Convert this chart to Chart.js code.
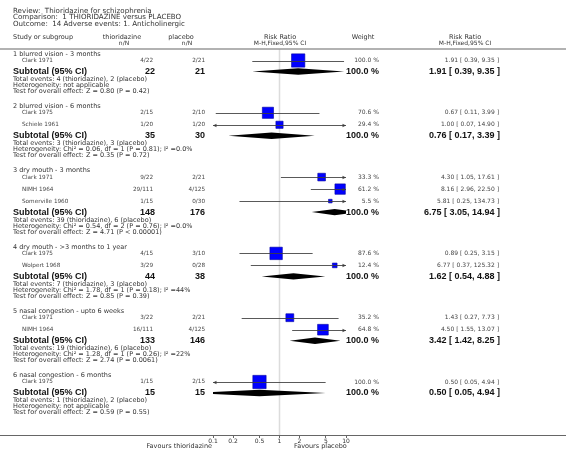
<!DOCTYPE html>
<html>
<head>
<meta charset="utf-8">
<script src="https://cdn.jsdelivr.net/npm/chart.js@4.4.0/dist/chart.umd.min.js"></script>
<style>
  html, body { margin: 0; padding: 0; background: #fff; }
  canvas { display: block; }
</style>
</head>
<body>
<canvas id="forest" width="566" height="465"></canvas>
<script>
// ---- data ----
const groups = [
    '1 blurred vision - 3 months',
    '2 blurred vision - 6 months',
    '3 dry mouth - 3 months',
    '4 dry mouth - >3 months to 1 year',
    '5 nasal congestion - upto 6 weeks',
    '6 nasal congestion - 6 months'
];
const studyGroup = [0, 1, 1, 2, 2, 2, 3, 3, 4, 4, 5];
const studies = ['Clark 1971', 'Clark 1975', 'Schiele 1961', 'Clark 1971', 'NIMH 1964', 'Somerville 1960',
    'Clark 1975', 'Wolpert 1968', 'Clark 1971', 'NIMH 1964', 'Clark 1975'];
const eventsT = [4, 2, 1, 9, 29, 1, 4, 3, 3, 16, 1];
const totalT = [22, 15, 20, 22, 111, 15, 15, 29, 22, 111, 15];
const eventsP = [2, 2, 1, 2, 4, 0, 3, 0, 2, 4, 2];
const totalP = [21, 10, 20, 21, 125, 30, 10, 28, 21, 125, 15];
const weights = [100.0, 70.6, 29.4, 33.3, 61.2, 5.5, 87.6, 12.4, 35.2, 64.8, 100.0];
const rr = [1.91, 0.67, 1.00, 4.30, 8.16, 5.81, 0.89, 6.77, 1.43, 4.50, 0.50];
const rrLow = [0.39, 0.11, 0.07, 1.05, 2.96, 0.25, 0.25, 0.37, 0.27, 1.55, 0.05];
const rrHigh = [9.35, 3.99, 14.90, 17.61, 22.50, 134.73, 3.15, 125.32, 7.73, 13.07, 4.94];

const subN_T = [22, 35, 148, 44, 133, 15];
const subN_P = [21, 30, 176, 38, 146, 15];
const subRR = [1.91, 0.76, 6.75, 1.62, 3.42, 0.50];
const subLow = [0.39, 0.17, 3.05, 0.54, 1.42, 0.05];
const subHigh = [9.35, 3.39, 14.94, 4.88, 8.25, 4.94];
const subEventsT = [4, 3, 39, 7, 19, 1];
const subEventsP = [2, 3, 6, 3, 6, 2];
const heterogeneity = [
    'not applicable',
    'Chi² = 0.06, df = 1 (P = 0.81); I² =0.0%',
    'Chi² = 0.54, df = 2 (P = 0.76); I² =0.0%',
    'Chi² = 1.78, df = 1 (P = 0.18); I² =44%',
    'Chi² = 1.28, df = 1 (P = 0.26); I² =22%',
    'not applicable'
];
const overallEffect = [
    'Z = 0.80 (P = 0.42)',
    'Z = 0.35 (P = 0.72)',
    'Z = 4.71 (P < 0.00001)',
    'Z = 0.85 (P = 0.39)',
    'Z = 2.74 (P = 0.0061)',
    'Z = 0.59 (P = 0.55)'
];
const tickValues = [0.1, 0.2, 0.5, 1, 2, 5, 10];

// ---- row layout (vertical units of the y scale) ----
const rowY = [], groupY = [], subY = [], infoY = [];
let cursor = 5;
groups.forEach(function (g, gi) {
    groupY.push(cursor);
    cursor += 6.5;
    let first = true;
    studyGroup.forEach(function (sg, i) {
        if (sg !== gi) return;
        if (!first) cursor += 12;
        rowY[i] = cursor;
        first = false;
    });
    cursor += 11;
    subY.push(cursor);
    cursor += 7.8;
    infoY.push(cursor);
    cursor += 12 + 15;
});

const fmtCI = (m, l, h) => m.toFixed(2) + ' [ ' + l.toFixed(2) + ', ' + h.toFixed(2) + ' ]';
const NORMAL = '"DejaVu Sans", Verdana, sans-serif';
const BOLD = 'bold 9px "Liberation Sans", Arial, sans-serif';

function text(ctx, str, x, y, font, color, align) {
    ctx.font = font;
    ctx.fillStyle = color;
    ctx.textAlign = align || 'left';
    ctx.textBaseline = 'middle';
    ctx.fillText(str, x, y);
}

const forestPlugin = {
    id: 'forest',
    beforeDatasetsDraw(chart) {
        const ctx = chart.ctx, area = chart.chartArea;
        const xs = chart.scales.x, ys = chart.scales.y;
        ctx.save();
        // line of no effect
        const x1 = xs.getPixelForValue(1);
        ctx.strokeStyle = '#dcdcdc';
        ctx.lineWidth = 1.5;
        ctx.beginPath();
        ctx.moveTo(x1, area.top);
        ctx.lineTo(x1, area.bottom);
        ctx.stroke();

        // subtotal diamonds
        ctx.beginPath();
        ctx.rect(area.left, area.top, area.right - area.left, area.bottom - area.top);
        ctx.clip();
        ctx.fillStyle = '#000';
        subRR.forEach(function (m, i) {
            const py = ys.getPixelForValue(subY[i]);
            const pl = xs.getPixelForValue(subLow[i]);
            const pm = xs.getPixelForValue(m);
            const ph = xs.getPixelForValue(subHigh[i]);
            ctx.beginPath();
            ctx.moveTo(pl, py);
            ctx.lineTo(pm, py - 3.2);
            ctx.lineTo(ph, py);
            ctx.lineTo(pm, py + 3.2);
            ctx.closePath();
            ctx.fill();
        });
        ctx.restore();
    },
    afterDatasetsDraw(chart) {
        const ctx = chart.ctx;
        const xs = chart.scales.x, ys = chart.scales.y;
        const lo = xs.getPixelForValue(tickValues[0]);
        const hi = xs.getPixelForValue(tickValues[tickValues.length - 1]);
        ctx.save();
        ctx.strokeStyle = 'rgba(60,60,60,0.85)';
        ctx.fillStyle = 'rgba(60,60,60,0.9)';
        ctx.lineWidth = 1;
        rr.forEach(function (m, i) {
            const py = Math.round(ys.getPixelForValue(rowY[i])) + 0.5;
            const pl = Math.max(lo, xs.getPixelForValue(rrLow[i]));
            const ph = Math.min(hi, xs.getPixelForValue(rrHigh[i]));
            ctx.beginPath();
            ctx.moveTo(pl, py);
            ctx.lineTo(ph, py);
            ctx.stroke();
            if (rrLow[i] < tickValues[0]) {
                ctx.beginPath();
                ctx.moveTo(lo, py);
                ctx.lineTo(lo + 3.5, py - 1.8);
                ctx.lineTo(lo + 3.5, py + 1.8);
                ctx.fill();
            }
            if (rrHigh[i] > tickValues[tickValues.length - 1]) {
                ctx.beginPath();
                ctx.moveTo(hi, py);
                ctx.lineTo(hi - 3.5, py - 1.8);
                ctx.lineTo(hi - 3.5, py + 1.8);
                ctx.fill();
            }
        });
        ctx.restore();
    },
    afterDraw(chart) {
        const ctx = chart.ctx, area = chart.chartArea;
        const ys = chart.scales.y;
        const W = chart.width;
        const Y = v => ys.getPixelForValue(v);
        const small = '5.7px ' + NORMAL;
        const norm = '6.5px ' + NORMAL;
        const title = '7.1px ' + NORMAL;
        const num = '6px ' + NORMAL;
        ctx.save();

        // title block
        text(ctx, 'Review:  Thioridazine for schizophrenia', 13, Y(-38), title, '#333');
        text(ctx, 'Comparison:  1 THIORIDAZINE versus PLACEBO', 13, Y(-31.5), title, '#333');
        text(ctx, 'Outcome:  14 Adverse events: 1. Anticholinergic', 13, Y(-25), title, '#333');

        // column headers
        text(ctx, 'Study or subgroup', 13, Y(-11.5), norm, '#333');
        text(ctx, 'thioridazine', 122, Y(-11.5), norm, '#333', 'center');
        text(ctx, 'n/N', 124, Y(-5.5), num, '#333', 'center');
        text(ctx, 'placebo', 181, Y(-11.5), norm, '#333', 'center');
        text(ctx, 'n/N', 187, Y(-5.5), num, '#333', 'center');
        text(ctx, 'Risk Ratio', 280, Y(-11.5), norm, '#333', 'center');
        text(ctx, 'M-H,Fixed,95% CI', 280, Y(-5.5), num, '#333', 'center');
        text(ctx, 'Weight', 363, Y(-11.5), norm, '#333', 'center');
        text(ctx, 'Risk Ratio', 465, Y(-11.5), norm, '#333', 'center');
        text(ctx, 'M-H,Fixed,95% CI', 465, Y(-5.5), num, '#333', 'center');

        // header rule
        ctx.strokeStyle = '#999';
        ctx.lineWidth = 1.5;
        ctx.beginPath();
        ctx.moveTo(0, area.top);
        ctx.lineTo(W, area.top);
        ctx.stroke();

        // study rows
        studies.forEach(function (s, i) {
            const py = Y(rowY[i]);
            text(ctx, s, 22, py, small, '#444');
            text(ctx, eventsT[i] + '/' + totalT[i], 153, py, small, '#444', 'right');
            text(ctx, eventsP[i] + '/' + totalP[i], 205, py, small, '#444', 'right');
            text(ctx, weights[i].toFixed(1) + ' %', 379, py, num, '#444', 'right');
            text(ctx, fmtCI(rr[i], rrLow[i], rrHigh[i]), 499, py, num, '#444', 'right');
        });

        // group labels and subtotals
        groups.forEach(function (g, gi) {
            text(ctx, g, 13, Y(groupY[gi]), norm, '#333');
            const sy = Y(subY[gi]);
            text(ctx, 'Subtotal (95% CI)', 13, sy, BOLD, '#111');
            text(ctx, String(subN_T[gi]), 155, sy, BOLD, '#111', 'right');
            text(ctx, String(subN_P[gi]), 205, sy, BOLD, '#111', 'right');
            text(ctx, '100.0 %', 379, sy, BOLD, '#111', 'right');
            text(ctx, fmtCI(subRR[gi], subLow[gi], subHigh[gi]), 500, sy, BOLD, '#111', 'right');
            const iy = infoY[gi];
            text(ctx, 'Total events: ' + subEventsT[gi] + ' (thioridazine), ' + subEventsP[gi] + ' (placebo)', 13, Y(iy), norm, '#333');
            text(ctx, 'Heterogeneity: ' + heterogeneity[gi], 13, Y(iy + 6), norm, '#333');
            text(ctx, 'Test for overall effect: ' + overallEffect[gi], 13, Y(iy + 12), norm, '#333');
        });

        // bottom axis line across the page
        ctx.strokeStyle = '#666';
        ctx.lineWidth = 1;
        ctx.beginPath();
        ctx.moveTo(0, Math.round(area.bottom) + 0.5);
        ctx.lineTo(W, Math.round(area.bottom) + 0.5);
        ctx.stroke();

        text(ctx, 'Favours thioridazine', area.left - 1, area.bottom + 11.5, norm, '#333', 'right');
        text(ctx, 'Favours placebo', 294, area.bottom + 11.5, norm, '#333', 'left');
        ctx.restore();
    }
};

const ctx = document.getElementById('forest').getContext('2d');
const forestChart = new Chart(ctx, {
    type: 'scatter',
    data: {
        datasets: [{
            data: rr.map((v, i) => ({ x: v, y: rowY[i] })),
            pointStyle: 'rect',
            pointRadius: weights.map(w => Math.max(3.6, 13.3 * Math.sqrt(w / 100)) / Math.SQRT2),
            backgroundColor: '#0000ff',
            borderColor: '#0000a0',
            borderWidth: 0.6
        }]
    },
    options: {
        responsive: false,
        animation: false,
        events: [],
        layout: {
            padding: { left: 213, right: 220, top: 49, bottom: 16 }
        },
        plugins: {
            legend: { display: false },
            tooltip: { enabled: false }
        },
        scales: {
            x: {
                type: 'logarithmic',
                min: 0.1,
                max: 10,
                position: 'bottom',
                afterBuildTicks: function (scale) {
                    scale.ticks = tickValues.map(v => ({ value: v }));
                },
                afterFit: function (scale) {
                    scale.height = 14;
                },
                border: { display: false },
                grid: {
                    drawOnChartArea: false,
                    tickLength: 3,
                    color: '#666'
                },
                ticks: {
                    autoSkip: false,
                    maxRotation: 0,
                    padding: 0,
                    color: '#333',
                    font: { family: 'DejaVu Sans', size: 6 },
                    callback: v => String(v)
                }
            },
            y: {
                type: 'linear',
                display: false,
                reverse: true,
                min: 0,
                max: 386
            }
        }
    },
    plugins: [forestPlugin]
});
</script>
</body>
</html>
